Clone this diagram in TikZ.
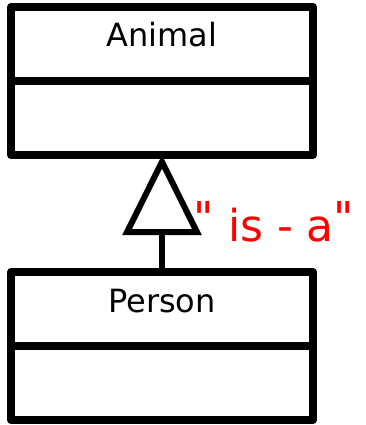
\documentclass[tikz,border=0pt]{standalone}
\usepackage{fontspec}
\setmainfont{DejaVu Sans}
\usepackage{xcolor}
\usetikzlibrary{arrows.meta}
\usetikzlibrary{positioning}

\tikzset{
	compartment/.style={draw, line width=8pt, line join=round, minimum width=302pt, minimum height=74pt, outer sep=0pt, inner sep=0pt, font=\fontsize{32}{32}\selectfont, text height=24pt, text depth=18pt},
	isa/.style={line width=6pt, -{Triangle[open, length=80pt, width=78pt]}},
	note/.style={text=red, font=\fontsize{44}{44}\selectfont},
}
\newcommand{\hquote}{\raisebox{8pt}{\textquotedbl}}

\begin{document}
\begin{tikzpicture}[x=1pt, y=-1pt]
	\useasboundingbox (0,0) rectangle (365,425);
	\node[compartment] (animal) at (162,44) {Animal};
	\node[compartment, below=0pt of animal] (animalbody) {};
	\node[compartment] (person) at (162,309) {Person};
	\node[compartment, below=0pt of person] (personbody) {};
	\draw[isa] (person.north) -- (animalbody.south);
%	handwritten remark
	\node[note] (isanote) at (274,222) {\hquote{} is - a\hquote};
\end{tikzpicture}
\end{document}
